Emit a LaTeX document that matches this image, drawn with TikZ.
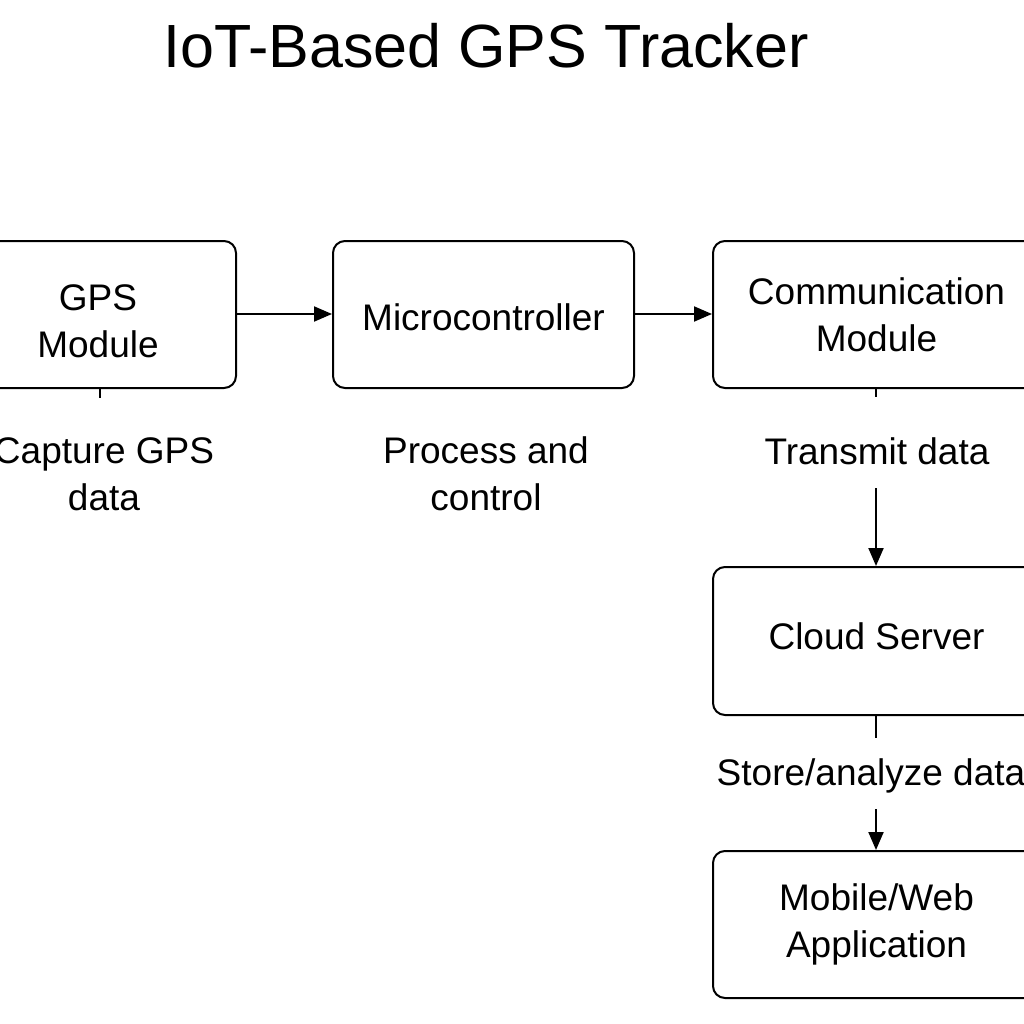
\documentclass[tikz,border=0pt]{standalone}
\usepackage{fontspec}
\setmainfont{Liberation Sans}
\usetikzlibrary{arrows.meta}
\begin{document}
\begin{tikzpicture}[x=1pt,y=-1pt,
  box/.style={draw,line width=2pt,rounded corners=12pt,inner sep=0pt,align=center,
    font=\fontsize{37}{47}\selectfont},
  lbl/.style={inner sep=0pt,align=center,font=\fontsize{37}{47}\selectfont},
  conn/.style={line width=2pt},
  arr/.style={line width=2pt,-{Triangle[length=18pt,width=15pt]}}]
\useasboundingbox (0,0) rectangle (1024,1024);
\clip (0,0) rectangle (1024,1024);
\node[font=\fontsize{61}{70}\selectfont,inner sep=0pt] (title) at (486,46) {IoT-Based GPS Tracker};
\node[box,minimum width=276pt,minimum height=147pt] (gps) at (98,314.5) {\rule{0pt}{39pt}GPS\\Module};
\node[box,minimum width=301pt,minimum height=147pt] (mcu) at (483.5,314.5) {\rule{0pt}{33pt}Microcontroller};
\node[box,minimum width=327pt,minimum height=147pt] (com) at (876.5,314.5) {Communication\\Module};
\node[box,minimum width=327pt,minimum height=148pt] (cloud) at (876.5,641) {\rule[-10pt]{0pt}{10pt}Cloud Server};
\node[box,minimum width=327pt,minimum height=147pt] (app) at (876.5,924.5) {Mobile/Web\\Application};
\node[lbl] (l1) at (104,474) {Capture GPS\\data};
\node[lbl] (l2) at (486,474) {Process and\\control};
\node[lbl] (l3) at (877,451) {Transmit data};
\node[lbl] (l4) at (871,776) {Store/analyze data};
\coordinate (t1) at (100,398);
\coordinate (t3) at (876,397);
\coordinate (s3) at (876,488);
\coordinate (t4) at (876,738);
\coordinate (s4) at (876,809);
\draw[arr] (gps.east |- 0,314) -- (mcu.west |- 0,314);
\draw[arr] (mcu.east |- 0,314) -- (com.west |- 0,314);
\draw[conn] (gps.south -| t1) -- (t1);
\draw[conn] (com.south -| t3) -- (t3);
\draw[arr] (s3) -- (cloud.north -| s3);
\draw[conn] (cloud.south -| t4) -- (t4);
\draw[arr] (s4) -- (app.north -| s4);
\end{tikzpicture}
\end{document}
